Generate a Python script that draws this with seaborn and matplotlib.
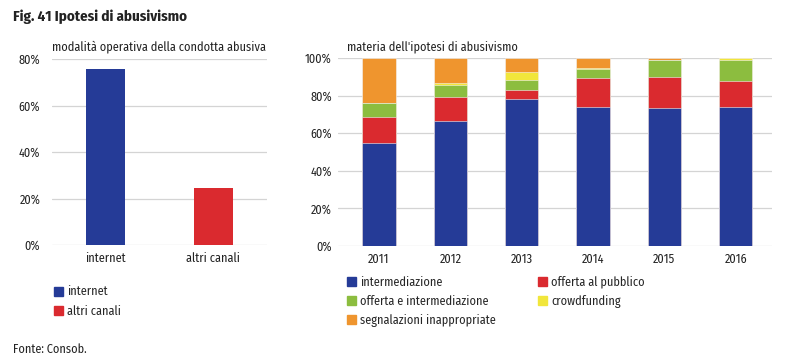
import numpy as np
import pandas as pd
import matplotlib
matplotlib.use('Agg')
import matplotlib.pyplot as plt
import seaborn as sns
from matplotlib.patches import Patch
from matplotlib.ticker import FuncFormatter

# dati: modalità operativa
canali = ['internet', 'altri canali']
quote_canali = [75.5, 24.5]

# dati: materia dell'ipotesi di abusivismo (% sul totale)
anni = ['2011', '2012', '2013', '2014', '2015', '2016']
intermediazione = [55.0, 66.6, 78.2, 74.2, 73.2, 73.7]
offerta_pubblico = [13.6, 12.4, 4.9, 15.3, 16.9, 14.0]
offerta_intermed = [7.3, 6.4, 5.2, 4.6, 8.8, 11.1]
crowdfunding = [0.0, 1.1, 4.4, 0.7, 0.2, 1.2]
segnalazioni = [24.1, 13.5, 7.3, 5.2, 0.9, 0.0]

serie = {
    'intermediazione': intermediazione,
    'offerta al pubblico': offerta_pubblico,
    'offerta e intermediazione': offerta_intermed,
    'crowdfunding': crowdfunding,
    'segnalazioni inappropriate': segnalazioni,
}
colori = {
    'intermediazione': '#253b97',
    'offerta al pubblico': '#da2a2f',
    'offerta e intermediazione': '#8cbd3f',
    'crowdfunding': '#f1e63b',
    'segnalazioni inappropriate': '#ef952e',
    'internet': '#253b97',
    'altri canali': '#da2a2f',
}

sns.set_theme(style='white')
plt.rcParams['font.family'] = ['Fira Sans Condensed', 'DejaVu Sans']

fig = plt.figure(figsize=(7.94, 3.61), dpi=100)
W, H = 794, 361
FS = 8.8
TXT = '#222222'


def rect(x0, y0, x1, y1):
    return [x0 / W, (H - y1) / H, (x1 - x0) / W, (y1 - y0) / H]


def stile(ax, ymax, passo, ypad):
    ax.set_ylim(0, ymax)
    ax.set_yticks(np.arange(0, ymax + 1, passo))
    ax.yaxis.set_major_formatter(FuncFormatter(lambda v, p: f'{v:.0f}%'))
    ax.grid(axis='y', color='#d4d4d4', linewidth=0.9)
    ax.set_axisbelow(True)
    for s in ax.spines.values():
        s.set_visible(False)
    ax.tick_params(axis='both', length=0, labelsize=FS, colors=TXT)
    ax.tick_params(axis='x', pad=5)
    ax.tick_params(axis='y', pad=ypad)
    ax.set_xlabel('')
    ax.set_ylabel('')


# pannello sinistro
ax1 = fig.add_axes(rect(52, 59, 267, 245))
df1 = pd.DataFrame({'canale': canali, 'quota': quote_canali})
sns.barplot(data=df1, x='canale', y='quota', hue='canale',
            palette=[colori[c] for c in canali], width=0.36,
            legend=False, ax=ax1, saturation=1, linewidth=0)
ax1.set_xlim(-0.5, 1.5)
stile(ax1, 80, 20, 8.5)
ax1.text(0.0, 1.03, 'modalità operativa della condotta abusiva',
         transform=ax1.transAxes, fontsize=FS, ha='left', va='bottom', color=TXT)

# pannello destro: barre sovrapposte dal totale cumulato
ax2 = fig.add_axes(rect(338, 58, 772, 246))
nomi = list(serie.keys())
cum = np.cumsum(np.array([serie[n] for n in nomi]), axis=0)
for i in range(len(nomi) - 1, -1, -1):
    d = pd.DataFrame({'anno': anni, 'v': cum[i]})
    sns.barplot(data=d, x='anno', y='v', color=colori[nomi[i]],
                width=0.47, ax=ax2, saturation=1, edgecolor='#f4f4f4', linewidth=0.4)
ax2.set_xlim(-0.575, 5.51)
stile(ax2, 100, 20, 4.5)
ax2.text(0.02, 1.025, "materia dell'ipotesi di abusivismo",
         transform=ax2.transAxes, fontsize=FS, ha='left', va='bottom', color=TXT)

# legende
leg_kw = dict(frameon=False, fontsize=FS, handlelength=0.75, handleheight=0.75,
              handletextpad=0.35, borderpad=0, borderaxespad=0, labelspacing=0.55)
h1 = [Patch(color=colori[c], label=c) for c in canali]
fig.legend(handles=h1, loc='upper left', bbox_to_anchor=(54 / W, 1 - 285.5 / H), **leg_kw)

ordine = ['intermediazione', 'offerta e intermediazione', 'segnalazioni inappropriate',
          'offerta al pubblico', 'crowdfunding']
h2 = [Patch(color=colori[c], label=c) for c in ordine]
fig.legend(handles=h2, loc='upper left', bbox_to_anchor=(347 / W, 1 - 275.5 / H),
           ncol=2, columnspacing=3.4, **leg_kw)

fig.text(13 / W, 1 - 17 / H, 'Fig. 41 Ipotesi di abusivismo', fontsize=10.8,
         fontweight='bold', ha='left', va='center', color=TXT)
fig.text(13 / W, 1 - 349 / H, 'Fonte: Consob.', fontsize=FS,
         ha='left', va='center', color=TXT)

fig.savefig('out.png', dpi=100, facecolor='white')
